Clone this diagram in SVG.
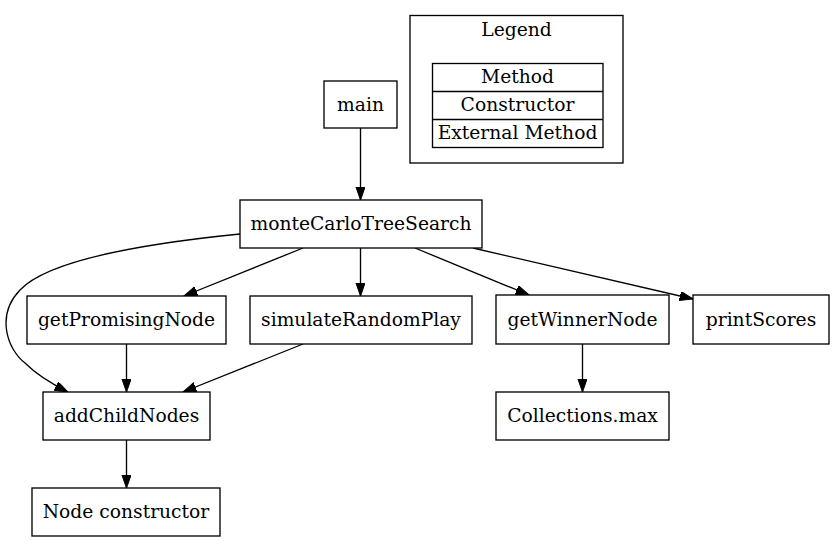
<svg xmlns="http://www.w3.org/2000/svg" width="832" height="541" viewBox="0 0 832 541">
<style>
.n rect{fill:#fff;stroke:#000;stroke-width:1.33}
text{font-family:"DejaVu Serif","Liberation Serif",serif;font-size:18.7px;text-anchor:middle;fill:#000}
.e path{fill:none;stroke:#000;stroke-width:1.33}
</style>
<defs>
<marker id="a" markerUnits="userSpaceOnUse" markerWidth="14" markerHeight="10" refX="13.3" refY="4.67" orient="auto">
<path d="M0,0 L13.3,4.67 L0,9.33 z" fill="#000" stroke="#000" stroke-width="1"/>
</marker>
</defs>
<rect width="832" height="541" fill="#fff"/>
<g id="legend">
<rect x="410" y="15.5" width="213" height="147.5" fill="none" stroke="#000" stroke-width="1.33"/>
<text x="516.5" y="36">Legend</text>
<rect x="432.5" y="63.5" width="170.5" height="84" fill="none" stroke="#000" stroke-width="1.33"/>
<line x1="432.5" y1="91.5" x2="603" y2="91.5" stroke="#000" stroke-width="1.33"/>
<line x1="432.5" y1="119.5" x2="603" y2="119.5" stroke="#000" stroke-width="1.33"/>
<text x="517.5" y="82.5">Method</text>
<text x="517.5" y="110.5">Constructor</text>
<text x="517.5" y="138.5">External Method</text>
</g>
<g class="e" id="edges">
<path d="M360.5,128 L360.5,200" marker-end="url(#a)"/>
<path d="M303,248 L184,296" marker-end="url(#a)"/>
<path d="M360.5,248 L360.5,296" marker-end="url(#a)"/>
<path d="M415,248 L529,295" marker-end="url(#a)"/>
<path d="M473,248 L693,299" marker-end="url(#a)"/>
<path d="M240,234 C160,242 50,258 20,290 C-5,316 8,350 25,363 C38,376 52,384 68,392" marker-end="url(#a)"/>
<path d="M126.5,344 L126.5,392" marker-end="url(#a)"/>
<path d="M303,344 L183,392" marker-end="url(#a)"/>
<path d="M582.5,344 L582.5,392" marker-end="url(#a)"/>
<path d="M126.5,440 L126.5,488" marker-end="url(#a)"/>
</g>
<g class="n" id="main"><rect x="324" y="81" width="73" height="47"/><text x="360.5" y="110.5">main</text></g>
<g class="n" id="monteCarloTreeSearch"><rect x="240" y="200" width="242" height="48"/><text x="361" y="230">monteCarloTreeSearch</text></g>
<g class="n" id="getPromisingNode"><rect x="27" y="296" width="199" height="48"/><text x="126.5" y="326">getPromisingNode</text></g>
<g class="n" id="simulateRandomPlay"><rect x="250" y="296" width="222" height="48"/><text x="361" y="326">simulateRandomPlay</text></g>
<g class="n" id="getWinnerNode"><rect x="496" y="295" width="173" height="49"/><text x="582.5" y="326">getWinnerNode</text></g>
<g class="n" id="printScores"><rect x="693" y="295" width="136" height="49"/><text x="761" y="326">printScores</text></g>
<g class="n" id="addChildNodes"><rect x="43" y="392" width="167" height="48"/><text x="126.5" y="422">addChildNodes</text></g>
<g class="n" id="CollectionsMax"><rect x="496" y="392" width="173" height="48"/><text x="582.5" y="422">Collections.max</text></g>
<g class="n" id="NodeConstructor"><rect x="32" y="488" width="188" height="48"/><text x="126" y="518">Node constructor</text></g>
</svg>
